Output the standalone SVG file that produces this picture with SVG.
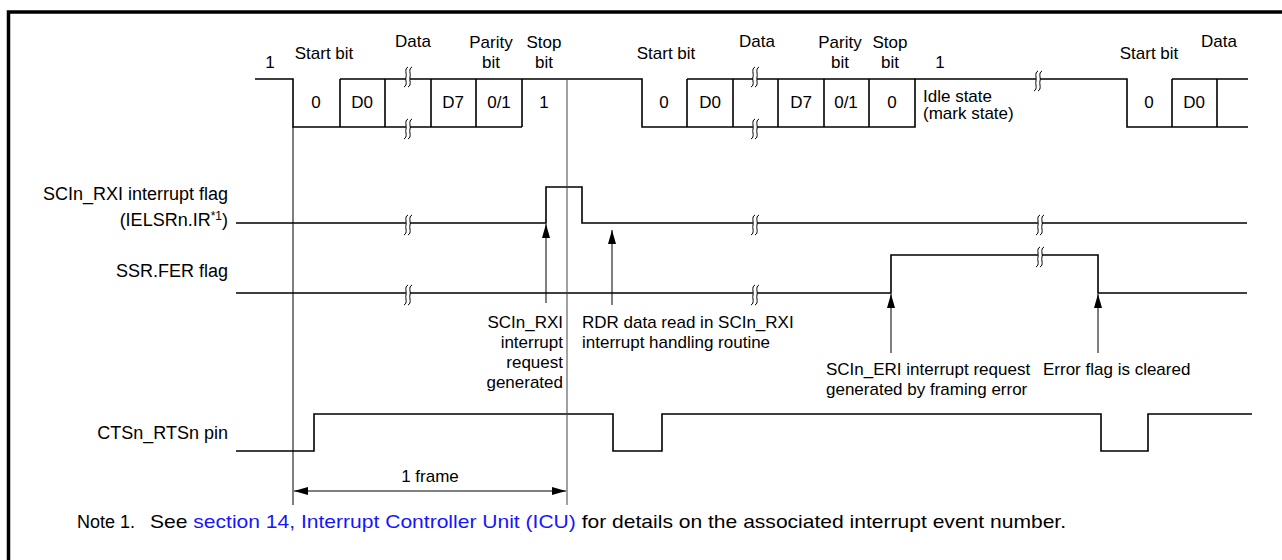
<svg xmlns="http://www.w3.org/2000/svg" xmlns:xlink="http://www.w3.org/1999/xlink" width="1282" height="560" viewBox="0 0 1282 560">
<style>
text{font-family:"Liberation Sans",Arial,sans-serif;font-size:17px;fill:#000}
.lbl{font-size:18px}
.nt{font-size:18px}
.w{fill:none;stroke:#000;stroke-width:1.6}
.thin{fill:none;stroke:#000;stroke-width:1}
.grey{fill:none;stroke:#444;stroke-width:1}
.c{text-anchor:middle}
.e{text-anchor:end}
.link{fill:#1515ff}
.brk path{fill:none;stroke:#000;stroke-width:1}
</style>
<defs>
<marker id="ah" markerUnits="userSpaceOnUse" markerWidth="14" markerHeight="8" refX="14" refY="4" orient="auto"><path d="M0,0 L14,4 L0,8 z" fill="#000"/></marker>
<marker id="ah2" markerUnits="userSpaceOnUse" markerWidth="14" markerHeight="8" refX="14" refY="4" orient="auto-start-reverse"><path d="M0,0 L14,4 L0,8 z" fill="#000"/></marker>
<g id="brk" class="brk"><rect x="-2" y="-3" width="4" height="6" fill="#fff"/><path d="M0,-10 C-4,-8 -1,-3 -2,0 C-3,3 0,8 -4,10"/><path d="M4,-10 C0,-8 3,-3 2,0 C1,3 4,8 0,10"/></g>
</defs>
<g id="frame"><path d="M8.5,560 V12 H1282" fill="none" stroke="#000" stroke-width="3.5"/></g>

<g id="data-waveform">
<path class="w" d="M255,79 H293 V127 H522"/>
<path class="w" d="M340,79 H642 V127 H915 V79 H1127 V127 H1248"/>
<path class="w" d="M687,79 H915 M1172,79 H1248"/>
<path class="w" d="M340,79 V127 M385,79 V127 M431,79 V127 M476,79 V127 M522,79 V127"/>
<path class="w" d="M687,79 V127 M733,79 V127 M778,79 V127 M824,79 V127 M869,79 V127"/>
<path class="w" d="M1172,79 V127 M1217,79 V127"/>
<use xlink:href="#brk" x="408" y="77"/><use xlink:href="#brk" x="408" y="129"/>
<use xlink:href="#brk" x="755" y="77"/><use xlink:href="#brk" x="755" y="129"/>
<use xlink:href="#brk" x="1038" y="81"/>
<text x="270" y="68" class="c">1</text>
<text x="324" y="59" class="c">Start bit</text>
<text x="413" y="47" class="c">Data</text>
<text x="491" y="48" class="c">Parity</text><text x="491" y="68" class="c">bit</text>
<text x="544" y="48" class="c">Stop</text><text x="544" y="68" class="c">bit</text>
<text x="316" y="108" class="c">0</text><text x="362" y="108" class="c">D0</text>
<text x="453" y="108" class="c">D7</text><text x="499" y="108" class="c">0/1</text><text x="544" y="108" class="c">1</text>
<text x="666" y="59" class="c">Start bit</text>
<text x="757" y="47" class="c">Data</text>
<text x="840" y="48" class="c">Parity</text><text x="840" y="68" class="c">bit</text>
<text x="890" y="48" class="c">Stop</text><text x="890" y="68" class="c">bit</text>
<text x="664" y="108" class="c">0</text><text x="710" y="108" class="c">D0</text>
<text x="801" y="108" class="c">D7</text><text x="846" y="108" class="c">0/1</text><text x="892" y="108" class="c">0</text>
<text x="940" y="68" class="c">1</text>
<text x="923" y="102">Idle state</text>
<text x="923" y="119">(mark state)</text>
<text x="1149" y="59" class="c">Start bit</text>
<text x="1219" y="47" class="c">Data</text>
<text x="1149" y="108" class="c">0</text><text x="1194" y="108" class="c">D0</text>
</g>

<g id="rxi-flag">
<text x="228" y="200" class="e lbl">SCIn_RXI interrupt flag</text>
<text x="228" y="226" class="e lbl">(IELSRn.IR<tspan font-size="12" dy="-6">*1</tspan><tspan dy="6">)</tspan></text>
<path class="w" d="M236,223 H546 V187 H582 V223 H1247"/>
<use xlink:href="#brk" x="408" y="225"/><use xlink:href="#brk" x="755" y="225"/><use xlink:href="#brk" x="1040" y="225"/>
</g>

<g id="fer-flag">
<text x="228" y="277" class="e lbl">SSR.FER flag</text>
<path class="w" d="M236,293 H891 V255 H1098 V293 H1247"/>
<use xlink:href="#brk" x="408" y="295"/><use xlink:href="#brk" x="755" y="295"/><use xlink:href="#brk" x="1040" y="257"/>
</g>

<g id="cts-pin">
<text x="228" y="439" class="e lbl">CTSn_RTSn pin</text>
<path class="w" d="M236,451 H314 V414 H613 V451 H662 V414 H1101 V451 H1148 V414 H1252"/>
</g>

<g id="connectors">
<path class="thin" d="M293,127 V505"/>
<path class="grey" d="M567,79 V505"/>
<path class="thin" d="M546,303 V224" marker-end="url(#ah)"/>
<path class="thin" d="M612,305 V230" marker-end="url(#ah)"/>
<path class="thin" d="M891,353 V294" marker-end="url(#ah)"/>
<path class="thin" d="M1098,353 V294" marker-end="url(#ah)"/>
<path class="thin" d="M294,491 H566" marker-start="url(#ah2)" marker-end="url(#ah2)"/>
</g>

<g id="annotations">
<text x="563" y="328" class="e">SCIn_RXI</text>
<text x="563" y="348" class="e">interrupt</text>
<text x="563" y="368" class="e">request</text>
<text x="563" y="388" class="e">generated</text>
<text x="582" y="328">RDR data read in SCIn_RXI</text>
<text x="582" y="348">interrupt handling routine</text>
<text x="826" y="375">SCIn_ERI interrupt request</text>
<text x="826" y="395">generated by framing error</text>
<text x="1043" y="375">Error flag is cleared</text>
<text x="430" y="482" class="c">1 frame</text>
</g>

<g id="note">
<text class="nt" x="77" y="528">Note 1.</text>
<text class="nt" transform="translate(150,528) scale(1.17,1)">See <tspan class="link">section 14, Interrupt Controller Unit (ICU)</tspan> for details on the associated interrupt event number.</text>
</g>
</svg>
